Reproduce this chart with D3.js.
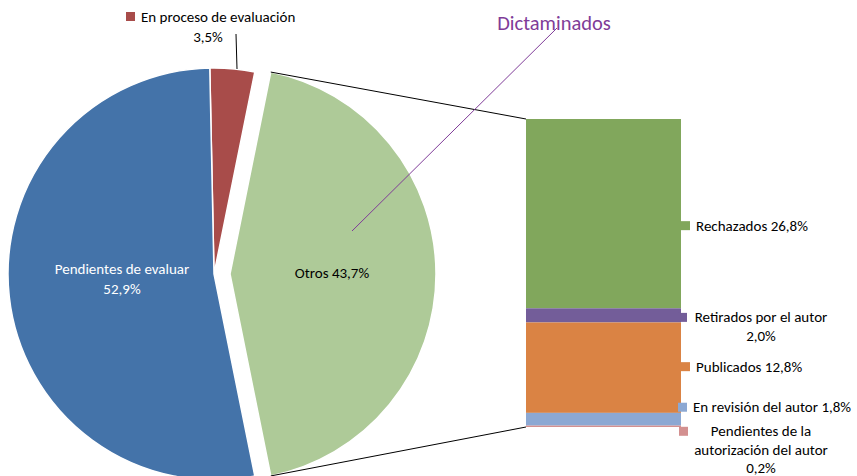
<!DOCTYPE html>
<html><head><meta charset="utf-8">
<script src="https://cdn.jsdelivr.net/npm/d3@7/dist/d3.min.js"></script>
<style>
html,body{margin:0;padding:0;background:#fff;}
svg{display:block;font-family:Carlito,Calibri,Lato,sans-serif;}
</style></head>
<body>
<svg id="c" width="857" height="476"></svg>
<script>
// ---- data ----
const pieCategories = ["En proceso de evaluación", "Otros", "Pendientes de evaluar"];
const pieValues = [3.5, 43.7, 52.9];
const pieLabels = ["3,5%", "Otros 43,7%", "52,9%"];
const barCategories = ["Rechazados", "Retirados por el autor", "Publicados", "En revisión del autor", "Pendientes de la autorización del autor"];
const barValues = [26.8, 2.0, 12.8, 1.8, 0.2];
const barLabels = [["Rechazados 26,8%"], ["Retirados por el autor", "2,0%"], ["Publicados 12,8%"], ["En revisión del autor 1,8%"], ["Pendientes de la", "autorización del autor", "0,2%"]];
const groupTitle = "Dictaminados";

// ---- style ----
const pieColors = ["#A84C4A", "#AECA98", "#4473A9"];
const barColors = ["#81A75C", "#735D99", "#DA8344", "#8CA8D3", "#D39090"];
const svg = d3.select("#c");

const cx = 214, cy = 274, R = 206, explode = 16;
const total = d3.sum(pieValues);
const redA = pieValues[0] / total * 2 * Math.PI;
const othA = pieValues[1] / total * 2 * Math.PI;
const start = Math.PI / 2 - othA / 2 - redA;
const pie = d3.pie().sort(null).value(d => d).startAngle(start).endAngle(start + 2 * Math.PI);
const arcs = pie(pieValues);
const arc = d3.arc().innerRadius(0).outerRadius(R);

const g = svg.append("g");
arcs.forEach((a, i) => {
  const mid = (a.startAngle + a.endAngle) / 2;
  const off = i === 1 ? explode : 0;
  const ox = cx + off * Math.sin(mid), oy = cy - off * Math.cos(mid);
  g.append("path").attr("d", arc(a)).attr("transform", `translate(${ox},${oy})`)
    .attr("fill", pieColors[i]).attr("stroke", "#fff").attr("stroke-width", 1.5);
});

// Bar (stacked)
const barX = 526, barW = 155, barTop = 119, barBottom = 427;
const barTotal = d3.sum(barValues);
const y = d3.scaleLinear().domain([0, barTotal]).range([barBottom, barTop]);
let cum = barTotal;
const segs = barValues.map((v, i) => { const s = { top: y(cum), bottom: y(cum - v), i }; cum -= v; return s; });
segs.forEach(s => {
  svg.append("rect").attr("x", barX).attr("y", s.top).attr("width", barW)
    .attr("height", Math.max(0, s.bottom - s.top)).attr("fill", barColors[s.i]);
});

// connector lines
const oa = arcs[1];
const gcx = cx + explode, gcy = cy;
const p1 = [gcx + R * Math.sin(oa.startAngle), gcy - R * Math.cos(oa.startAngle)];
const p2 = [gcx + R * Math.sin(oa.endAngle), gcy - R * Math.cos(oa.endAngle)];
svg.append("line").attr("x1", p1[0]).attr("y1", p1[1]).attr("x2", barX).attr("y2", y(barTotal)).attr("stroke", "#000").attr("stroke-width", 1);
svg.append("line").attr("x1", p2[0]).attr("y1", p2[1]).attr("x2", barX).attr("y2", y(0)).attr("stroke", "#000").attr("stroke-width", 1);

// Pie labels
const fs = 15;
svg.append("rect").attr("x", 126).attr("y", 12).attr("width", 9).attr("height", 9).attr("fill", pieColors[0]);
svg.append("text").attr("x", 141).attr("y", 22).attr("font-size", fs).attr("fill", "#000").text(pieCategories[0]);
svg.append("text").attr("x", 208).attr("y", 42).attr("text-anchor", "middle").attr("font-size", fs).text(pieLabels[0]);
svg.append("line").attr("x1", 236).attr("y1", 34).attr("x2", 237).attr("y2", 69).attr("stroke", "#000").attr("stroke-width", 1);

svg.append("text").attr("x", 122).attr("y", 274).attr("text-anchor", "middle").attr("font-size", fs).attr("fill", "#fff").text(pieCategories[2]);
svg.append("text").attr("x", 122).attr("y", 294).attr("text-anchor", "middle").attr("font-size", fs).attr("fill", "#fff").text(pieLabels[2]);
svg.append("text").attr("x", 332).attr("y", 278).attr("text-anchor", "middle").attr("font-size", fs).attr("fill", "#000").text(pieLabels[1]);

// Dictaminados
svg.append("line").attr("x1", 352).attr("y1", 231).attr("x2", 557).attr("y2", 28).attr("stroke", "#7F3C98").attr("stroke-width", 1);
svg.append("text").attr("x", 554).attr("y", 30).attr("text-anchor", "middle").attr("font-size", 20.5).attr("fill", "#7F3C98").text(groupTitle);

// Bar labels
const labelDy = [12, 2, -1, -12, 5];
const sqX = [681, 678, 681, 678, 679];
segs.forEach((s, i) => {
  const my = (s.top + s.bottom) / 2 + labelDy[i];
  svg.append("rect").attr("x", sqX[i]).attr("y", my - 4.5).attr("width", 9).attr("height", 9).attr("fill", barColors[i]);
  const lines = barLabels[i];
  if (lines.length === 1) {
    svg.append("text").attr("x", sqX[i] + 15).attr("y", my + 5).attr("font-size", fs).text(lines[0]);
  } else {
    const lh = i === 4 ? 18.5 : 19;
    lines.forEach((t, k) => {
      svg.append("text").attr("x", 761).attr("y", my + 5 + k * lh).attr("text-anchor", "middle").attr("font-size", fs).text(t);
    });
  }
});
</script>
</body></html>
